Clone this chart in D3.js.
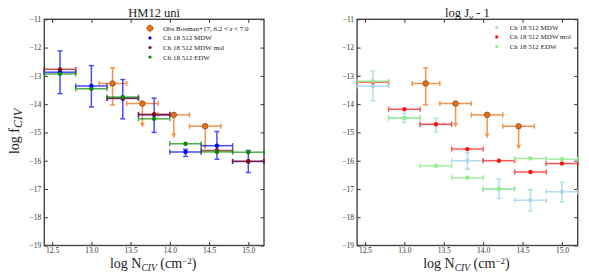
<!DOCTYPE html>
<html>
<head>
<meta charset="utf-8">
<script src="https://cdn.jsdelivr.net/npm/d3@7"></script>
<style>
  body { margin: 0; background: #fff; }
  svg { font-family: "Liberation Serif", "DejaVu Serif", serif; }
  .tick text { font-family: "Liberation Serif", "DejaVu Serif", serif; font-size: 7.5px; fill: #333; }
  .axis-label { font-size: 14px; fill: #222; }
  .title { font-size: 12.5px; fill: #222; }
  .legend text { font-size: 7px; fill: #222; }
</style>
</head>
<body>
<svg id="chart"></svg>
<script>
// bins in log N_CIV
const binX  = [12.6, 13.0, 13.4, 13.8, 14.2, 14.6, 15.0];
const binLo = [12.4, 12.8, 13.2, 13.6, 14.0, 14.4, 14.8];
const binHi = [12.8, 13.2, 13.6, 14.0, 14.4, 14.8, 15.2];

// observations (Bosman+17)
const obsX    = [13.27, 13.65, 14.05, 14.45];
const obsY    = [-13.27, -13.98, -14.38, -14.78];
const obsXlo  = [13.1, 13.45, 13.85, 14.25];
const obsXhi  = [13.45, 13.85, 14.25, 14.65];
const obsYtop = [-12.72, null, null, null];
const obsYbot = [-14.03, -14.8, -15.18, -15.58];

// HM12 uni panel
const uniMDW    = [-12.87, -13.36, -13.8, -14.38, -15.69, -15.47, -16.03];
const uniMDWtop = [-12.12, -12.64, -13.13, -13.79, -15.6, -14.97, -15.64];
const uniMDWbot = [-13.63, -14.1, -14.52, -15.0, -15.85, -15.95, -16.42];
const uniMol    = [-12.77, null, -13.79, -14.36, null, -15.64, -16.02];
const uniEDW    = [-12.93, -13.46, -13.75, -14.52, -15.4, -15.69, -15.7];

// log J_nu - 1 panel
const jMDW    = [-13.36, -14.49, -14.73, -16.0, -17.0, -17.4, -17.1];
const jMDWtop = [-12.83, -14.32, -14.5, -15.71, -16.65, -17.03, -16.77];
const jMDWbot = [-13.88, -14.65, -14.98, -16.3, -17.34, -17.78, -17.46];
const jMol    = [-13.22, -14.18, -14.71, -15.59, -16.0, -16.4, -16.1];
const jEDW    = [-13.19, -14.49, -16.18, -16.6, -17.0, -15.92, -15.95];

const xTicks = [12.5, 13.0, 13.5, 14.0, 14.5, 15.0];
const yTicks = [-11, -12, -13, -14, -15, -16, -17, -18, -19];

const W = 589, H = 277;
const svg = d3.select('#chart').attr('width', W).attr('height', H);

function series(y, top, bot) {
  return binX.map((x, i) => ({ x: x, y: y[i], xlo: binLo[i], xhi: binHi[i],
    ytop: top ? top[i] : null, ybot: bot ? bot[i] : null })).filter(d => d.y != null);
}
const obs = obsX.map((x, i) => ({ x: x, y: obsY[i], xlo: obsXlo[i], xhi: obsXhi[i],
  ytop: obsYtop[i], ybot: obsYbot[i], limit: obsYtop[i] == null }));

function panel(left, right, title, items, legend, yLabel) {
  const top = 19.3, bottom = 245.5;
  const x = d3.scaleLinear().domain([12.4, 15.2]).range([left, right]);
  const y = d3.scaleLinear().domain([-11, -19]).range([top, bottom]);
  const g = svg.append('g');

  // axes, inward ticks on all sides
  g.append('g').attr('transform', `translate(0,${bottom})`)
    .call(d3.axisBottom(x).tickValues(xTicks).tickFormat(d3.format('.1f')).tickSizeInner(-3.5).tickSizeOuter(0).tickPadding(2));
  g.append('g').attr('transform', `translate(0,${top})`)
    .call(d3.axisTop(x).tickValues(xTicks).tickFormat('').tickSizeInner(-3.5).tickSizeOuter(0));
  g.append('g').attr('transform', `translate(${left},0)`)
    .call(d3.axisLeft(y).tickValues(yTicks).tickFormat(d3.format('d')).tickSizeInner(-3.5).tickSizeOuter(0).tickPadding(3));
  g.append('g').attr('transform', `translate(${right},0)`)
    .call(d3.axisRight(y).tickValues(yTicks).tickFormat('').tickSizeInner(-3.5).tickSizeOuter(0));
  g.selectAll('.domain').remove();
  g.selectAll('.tick line').attr('stroke', '#333');
  g.append('rect').attr('x', left).attr('y', top).attr('width', right - left).attr('height', bottom - top)
    .attr('fill', 'none').attr('stroke', '#444').attr('stroke-width', 1.4);

  const plot = g.append('g');
  const cap = 2.5;
  for (const s of items) {
    const sg = plot.append('g');
    const bars = sg.append('g').attr('stroke', s.color).attr('stroke-width', 1.5).attr('opacity', s.alpha || 0.7).attr('fill', 'none');
    s.data.forEach(d => {
      const cx = x(d.x), cy = y(d.y);
      bars.append('line').attr('x1', x(d.xlo)).attr('x2', x(d.xhi)).attr('y1', cy).attr('y2', cy);
      [d.xlo, d.xhi].forEach(v => bars.append('line').attr('x1', x(v)).attr('x2', x(v)).attr('y1', cy - cap).attr('y2', cy + cap));
      if (d.ybot != null) {
        const y1 = d.ytop != null ? y(d.ytop) : cy;
        bars.append('line').attr('x1', cx).attr('x2', cx).attr('y1', y1).attr('y2', y(d.ybot));
        if (d.ytop != null)
          bars.append('line').attr('x1', cx - cap).attr('x2', cx + cap).attr('y1', y1).attr('y2', y1);
        if (d.limit) {
          const yb = y(d.ybot);
          bars.append('path').attr('d', `M${cx - 2.5},${yb - 4}L${cx + 2.5},${yb - 4}L${cx},${yb}Z`)
            .attr('fill', s.color).attr('stroke', 'none');
        } else {
          bars.append('line').attr('x1', cx - cap).attr('x2', cx + cap).attr('y1', y(d.ybot)).attr('y2', y(d.ybot));
        }
      }
    });
    sg.selectAll('circle').data(s.data).join('circle')
      .attr('cx', d => x(d.x)).attr('cy', d => y(d.y)).attr('r', s.r || 2.2)
      .attr('fill', s.marker || s.color).attr('stroke', s.edge || 'none').attr('stroke-width', 0.8);
  }

  // title
  g.append('text').attr('class', 'title').attr('x', (left + right) / 2).attr('y', 17)
    .attr('text-anchor', 'middle').html(title);

  // x label
  const xl = g.append('text').attr('class', 'axis-label').attr('x', (left + right) / 2 - 1).attr('y', 268)
    .attr('text-anchor', 'middle');
  xl.append('tspan').text('log N');
  xl.append('tspan').attr('font-size', '9.5px').attr('font-style', 'italic').attr('dy', 3).text('CIV');
  xl.append('tspan').attr('dy', -3).text(' (cm');
  xl.append('tspan').attr('font-size', '9px').attr('dy', -4.5).text('−2');
  xl.append('tspan').attr('dy', 4.5).text(')');

  if (yLabel) {
    const yl = g.append('text').attr('class', 'axis-label').attr('font-size', '18px')
      .attr('transform', `translate(19,${(top + bottom) / 2 - 1}) rotate(-90)`).attr('text-anchor', 'middle');
    yl.append('tspan').text('log f');
    yl.append('tspan').attr('font-size', '12px').attr('font-style', 'italic').attr('dy', 3).text('CIV');
  }

  // legend
  const lg = g.append('g').attr('class', 'legend');
  legend.entries.forEach((e, i) => {
    const ly = legend.y + i * 9.6;
    if (e.obs) {
      lg.append('line').attr('x1', legend.x - 4).attr('x2', legend.x + 4).attr('y1', ly).attr('y2', ly)
        .attr('stroke', e.color).attr('stroke-width', 1.5).attr('opacity', 0.7);
      lg.append('line').attr('x1', legend.x).attr('x2', legend.x).attr('y1', ly - 4).attr('y2', ly + 4)
        .attr('stroke', e.color).attr('stroke-width', 1.5).attr('opacity', 0.7);
      lg.append('circle').attr('cx', legend.x).attr('cy', ly).attr('r', 2.8).attr('fill', e.color)
        .attr('stroke', '#a04a10').attr('stroke-width', 0.8);
    } else {
      lg.append('circle').attr('cx', legend.x).attr('cy', ly).attr('r', 1.6).attr('fill', e.color);
    }
    lg.append('text').attr('x', legend.x + 13).attr('y', ly + 2.5).html(e.label);
  });
}

const orange = '#f07a1e';
const obsItem = { data: obs, color: orange, alpha: 0.8, marker: '#e0701c', edge: '#9a4a14', r: 2.8 };

panel(44.3, 264, 'HM12 uni', [
  obsItem,
  { data: series(uniMDW, uniMDWtop, uniMDWbot), color: '#0000ff' },
  { data: series(uniMol), color: '#8b0a0a' },
  { data: series(uniEDW), color: '#0a8a0a' }
], { x: 150, y: 28.3, entries: [
  { label: 'Obs Bosman+17, 6.2 &lt; <tspan font-style="italic">z</tspan> &lt; 7.0', color: orange, obs: true },
  { label: 'Ch 18 512 MDW', color: '#0000ff' },
  { label: 'Ch 18 512 MDW mol', color: '#8b0a0a' },
  { label: 'Ch 18 512 EDW', color: '#0a8a0a' }
]}, true);

panel(357.1, 577.7, 'log J<tspan font-size="9px" font-style="italic" dy="3">ν</tspan><tspan dy="-3"> - 1</tspan>', [
  obsItem,
  { data: series(jMDW, jMDWtop, jMDWbot), color: '#a8d8e8', alpha: 0.85 },
  { data: series(jMol), color: '#ff1010' },
  { data: series(jEDW), color: '#90ee90', alpha: 0.85 }
], { x: 496.7, y: 27.3, entries: [
  { label: 'Ch 18 512 MDW', color: '#a8d8e8' },
  { label: 'Ch 18 512 MDW mol', color: '#ff1010' },
  { label: 'Ch 18 512 EDW', color: '#90ee90' }
]}, false);
</script>
</body>
</html>
